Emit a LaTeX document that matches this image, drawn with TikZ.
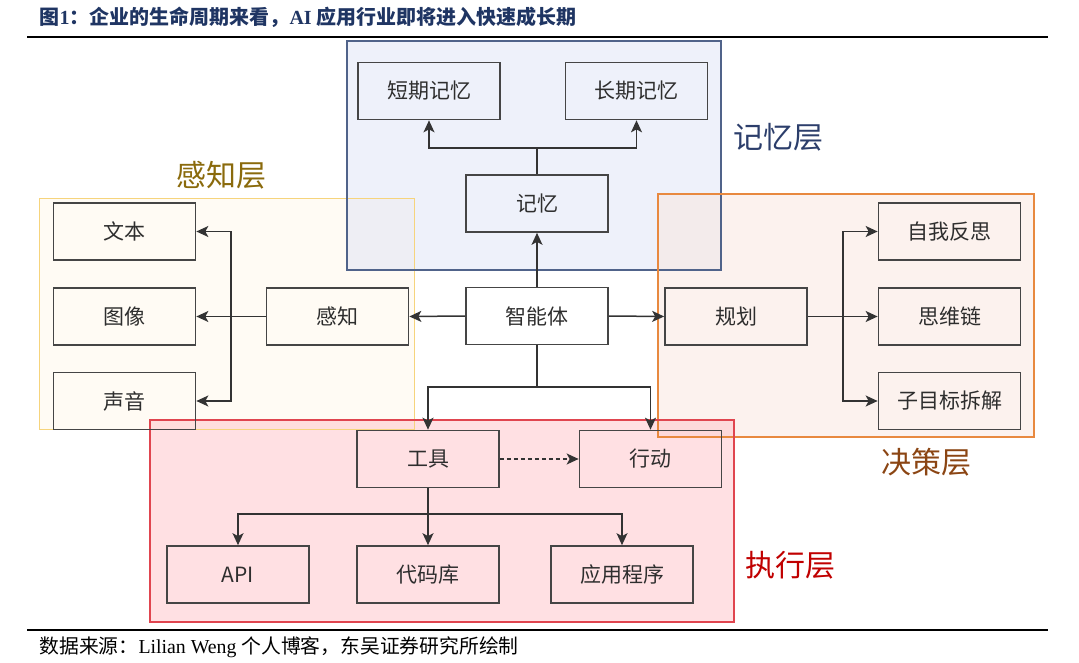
\documentclass[tikz,border=0pt]{standalone}
\usepackage{fontspec}
\setmainfont{Liberation Serif}
\newfontfamily\cjk{Noto Sans CJK SC}
\usepackage{tikz}
\usetikzlibrary{arrows.meta}
\usepackage{color}

\definecolor{boxline}{HTML}{454545}
\definecolor{boxtext}{HTML}{2E2E2E}
\definecolor{arrline}{HTML}{333333}
\definecolor{titleblue}{HTML}{1F3563}
\definecolor{percfill}{RGB}{255,247,233}
\definecolor{percline}{HTML}{F6D47C}
\definecolor{memfill}{RGB}{221,227,245}
\definecolor{memline}{HTML}{50638A}
\definecolor{decfill}{RGB}{249,229,221}
\definecolor{decline}{HTML}{E8893F}
\definecolor{exefill}{RGB}{255,193,199}
\definecolor{exeline}{HTML}{E0454F}
\definecolor{perctext}{HTML}{8A6A0C}
\definecolor{memtext}{HTML}{2C3E6B}
\definecolor{dectext}{HTML}{8B4513}
\definecolor{exetext}{HTML}{C00000}

\begin{document}
\begin{tikzpicture}[x=1pt, y=-1pt,
  blk/.style={draw=boxline, line width=1.7pt, minimum width=142pt, minimum height=57pt,
    inner sep=0pt, text=boxtext, font=\cjk\fontsize{21}{21}\selectfont},
  arr/.style={draw=arrline, line width=1.5pt, -{Stealth[length=12pt,width=11pt,inset=3pt]}},
  layerlabel/.style={font=\cjk\fontsize{30}{30}\selectfont}
]
\useasboundingbox (0,0) rectangle (1079,663);

%% header and footer
\node[anchor=west, text=titleblue, font=\bfseries\fontsize{20}{20}\selectfont] (title) at (36,17)
  {{\cjk 图}1{\cjk ：企业的生命周期来看，}AI {\cjk 应用行业即将进入快速成长期}};
\draw[line width=2pt] (27,37) -- (1048,37);
\draw[line width=1.5pt] (27,630) -- (1048,630);
\node[anchor=west, font=\fontsize{19.8}{19.8}\selectfont] (source) at (36,647)
  {{\cjk 数据来源：}Lilian Weng {\cjk 个人博客，东吴证券研究所绘制}};

%% layers
\fill[percfill, fill opacity=0.5] (39,199) rectangle (414,429);
\fill[memfill, fill opacity=0.5] (347,41) rectangle (721,270);
\fill[decfill, fill opacity=0.5] (658,194) rectangle (1034,437);
\fill[exefill, fill opacity=0.5] (150,420) rectangle (734,622);
\draw[percline, line width=1pt] (39,199) rectangle (414,429);
\draw[memline, line width=1.2pt] (347,41) rectangle (721,270);
\draw[decline, line width=1.2pt] (658,194) rectangle (1034,437);
\draw[exeline, line width=1.2pt] (150,420) rectangle (734,622);

\node[layerlabel, text=memtext] (memlabel) at (778,137) {记忆层};
\node[layerlabel, text=perctext] (perclabel) at (221,175) {感知层};
\node[layerlabel, text=dectext] (declabel) at (926,462) {决策层};
\node[layerlabel, text=exetext] (exelabel) at (790,565) {执行层};

%% agent
\node[blk] (agent) at (537,316) {智能体};

%% memory
\node[blk] (stm) at (429,91) {短期记忆};
\node[blk] (ltm) at (636.5,91) {长期记忆};
\node[blk] (mem) at (537,203.5) {记忆};
\coordinate (mfork) at (537,148);
\draw[arr] (agent.north) -- (mem.south);
\draw[arr] (mem.north) -- (mfork) -| (stm.south);
\draw[arr] (mfork) -| (ltm.south);

%% perception
\node[blk] (perc) at (337.5,316.5) {感知};
\node[blk] (txt) at (124.5,231.5) {文本};
\node[blk] (img) at (124.5,316.5) {图像};
\node[blk] (snd) at (124.5,401) {声音};
\coordinate (pfork) at (231,316.5);
\draw[arr] (agent.west) -- (perc.east);
\draw[arr] (perc.west) -- (img.east);
\draw[arr] (pfork) |- (txt.east);
\draw[arr] (pfork) |- (snd.east);

%% planning
\node[blk] (plan) at (736,316.5) {规划};
\node[blk] (refl) at (949.5,231.5) {自我反思};
\node[blk] (cot) at (949.5,316.5) {思维链};
\node[blk] (sub) at (949.5,401) {子目标拆解};
\coordinate (dfork) at (843,316.5);
\draw[arr] (agent.east) -- (plan.west);
\draw[arr] (plan.east) -- (cot.west);
\draw[arr] (dfork) |- (refl.west);
\draw[arr] (dfork) |- (sub.west);

%% action
\node[blk] (tool) at (428,459) {工具};
\node[blk] (act) at (650.5,459) {行动};
\node[blk] (api) at (238,574.5) {API};
\node[blk] (code) at (428,574.5) {代码库};
\node[blk] (app) at (622,574.5) {应用程序};
\coordinate (afork) at (537,387);
\coordinate (tfork) at (428,514);
\draw[arr] (agent.south) -- (afork) -| (tool.north);
\draw[arr] (afork) -| (act.north);
\draw[arr, dash pattern=on 4pt off 3pt] (tool.east) -- (act.west);
\draw[arr] (tool.south) -- (code.north);
\draw[arr] (tfork) -| (api.north);
\draw[arr] (tfork) -| (app.north);
\end{tikzpicture}
\end{document}
